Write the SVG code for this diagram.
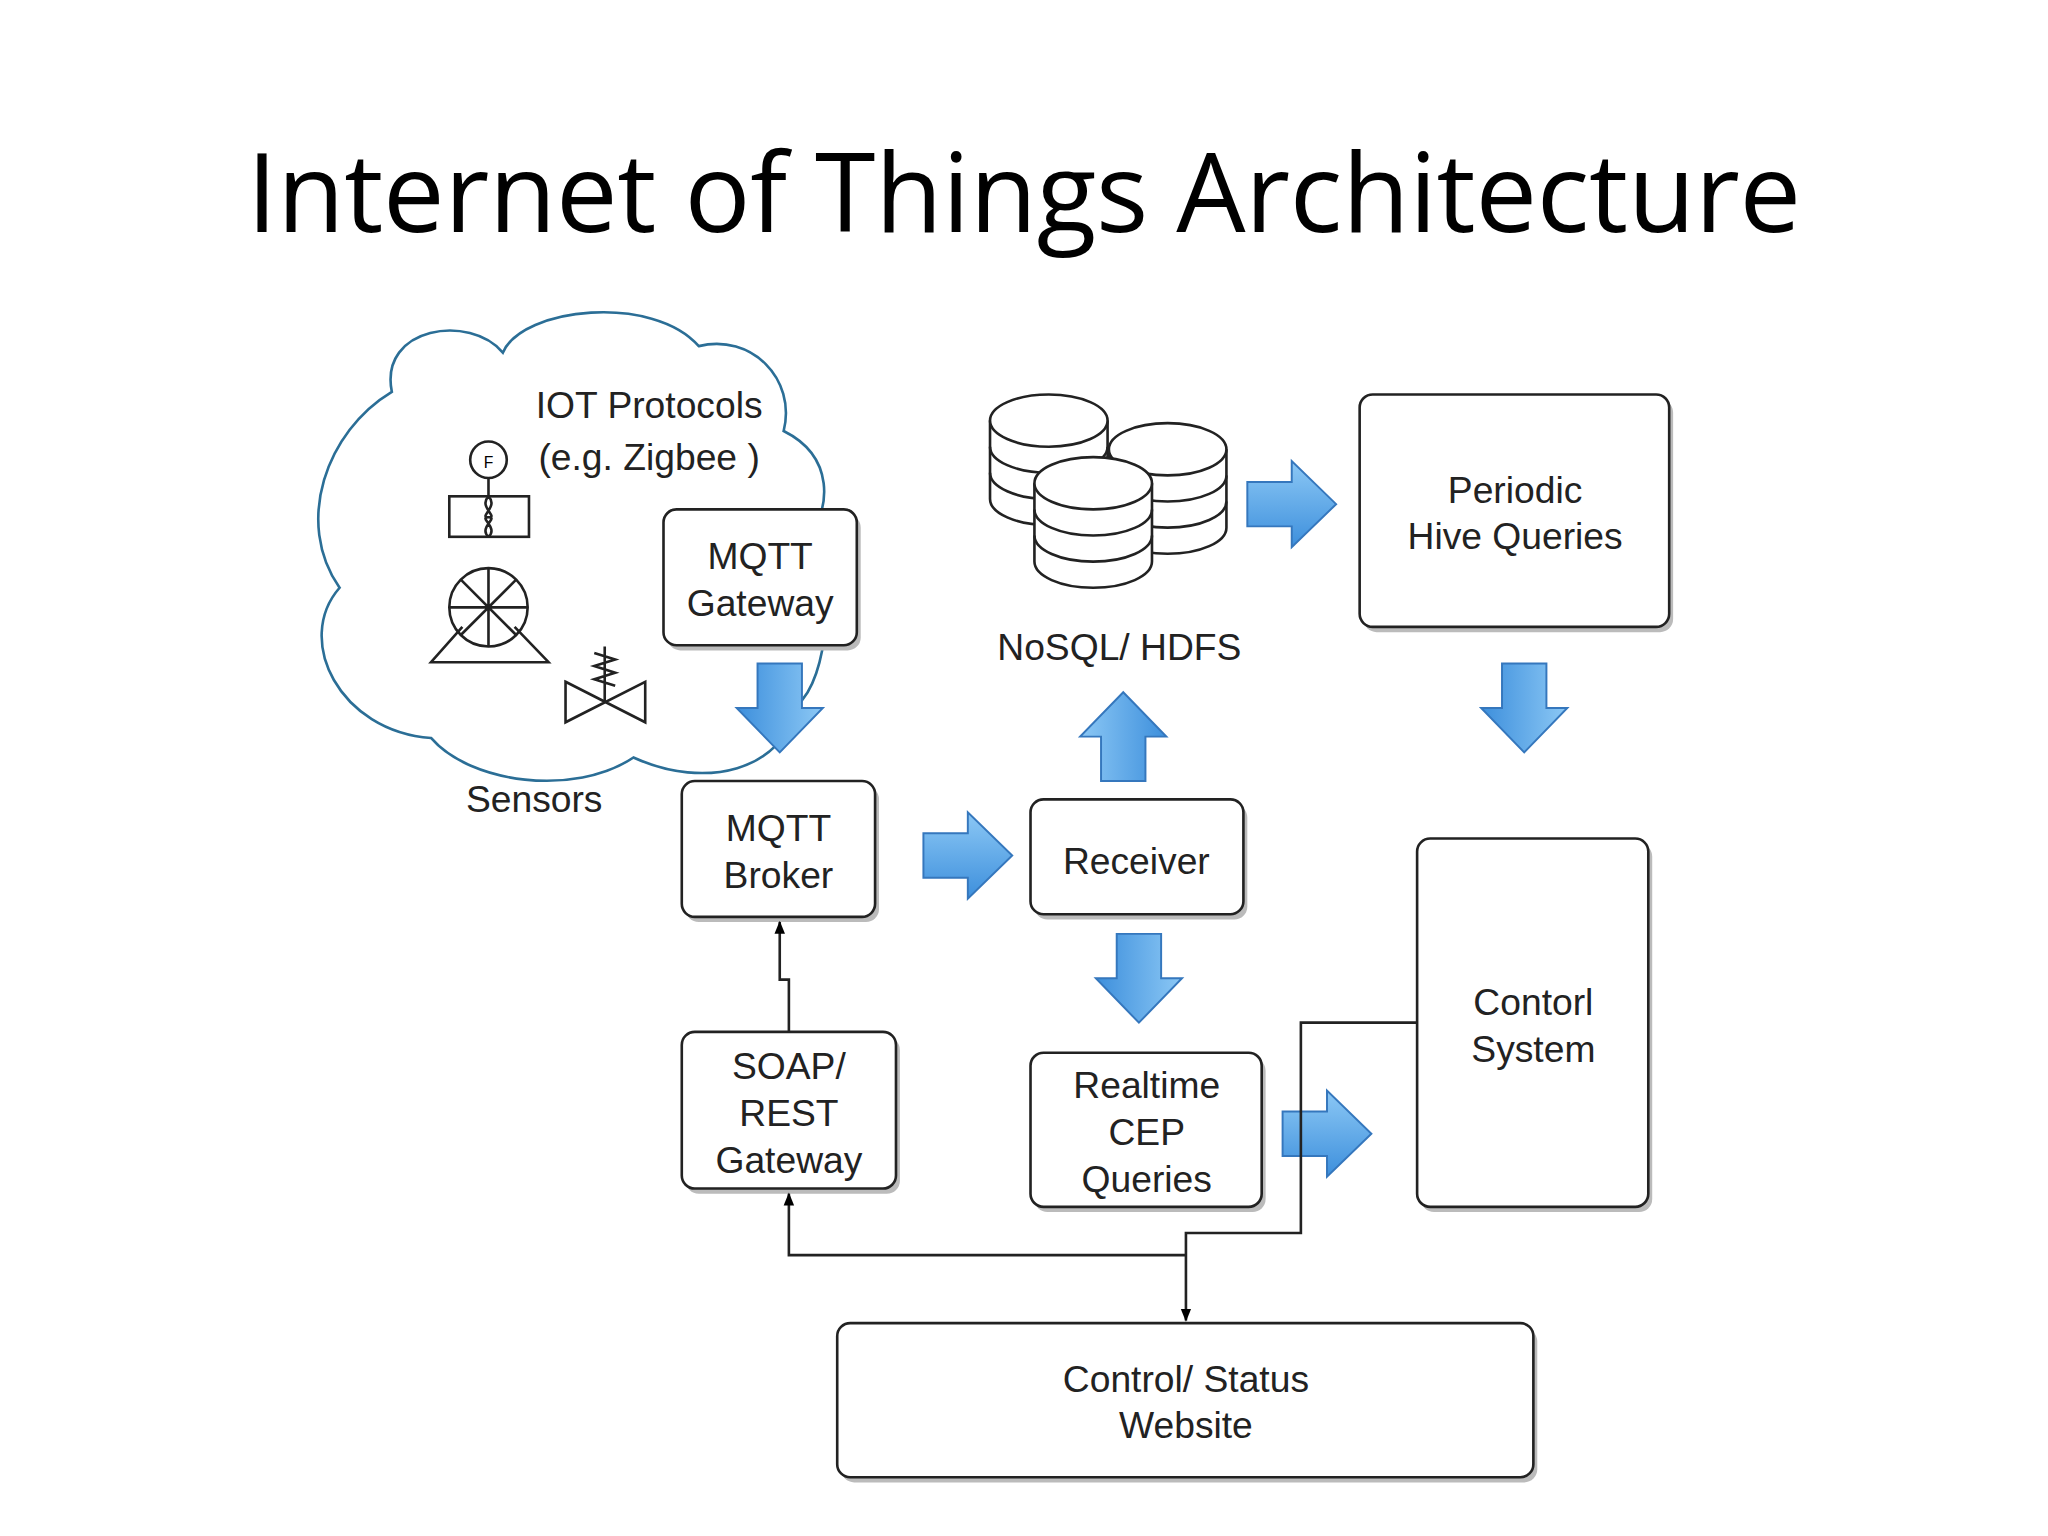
<svg xmlns="http://www.w3.org/2000/svg" xmlns:xlink="http://www.w3.org/1999/xlink" width="2048" height="1536" viewBox="0 0 2048 1536">
<defs>
<linearGradient id="bg" x1="0" y1="0" x2="0" y2="1"><stop offset="0" stop-color="#8cc8f5"/><stop offset="1" stop-color="#3d8fdc"/></linearGradient>
<path id="arr" d="M0,16 H34 V0 L68,33 L34,66 V50 H0 Z" fill="url(#bg)" stroke="#3577bd" stroke-width="1.5"/>
<marker id="ah" markerWidth="10" markerHeight="10" refX="9" refY="5" orient="auto" markerUnits="userSpaceOnUse"><path d="M0,1 L10,5 L0,9 Z" fill="#000"/></marker>
<g id="db"><path d="M0,20 V80 A45,20 0 0 0 90,80 V20" fill="#fff" stroke="#222" stroke-width="2"/><path d="M0,40 A45,20 0 0 0 90,40 M0,60 A45,20 0 0 0 90,60" fill="none" stroke="#222" stroke-width="2"/><ellipse cx="45" cy="20" rx="45" ry="20" fill="#fff" stroke="#222" stroke-width="2"/></g>
</defs>
<style>
.bx{fill:#fff;stroke:#222;stroke-width:2}
.sh{fill:#bbb}
.t{font-family:"Liberation Sans",Arial,sans-serif;font-size:28.5px;fill:#222;text-anchor:middle}
.ln{fill:none;stroke:#222;stroke-width:2}
</style>
<rect width="2048" height="1536" fill="#fff"/>
<g transform="scale(1.3061)">
<text x="784" y="178" font-family="Open Sans,Liberation Sans,sans-serif" font-size="84" text-anchor="middle" textLength="1190" fill="#000">Internet of Things Architecture</text>
<g id="cloud">
<path d="M300,300 C290,250 360,240 385,270 C400,235 500,225 535,265 C575,255 610,290 600,330 C640,350 635,390 620,410 C640,440 635,520 610,540 C600,590 540,605 485,580 C440,610 360,600 330,565 C260,560 225,490 260,450 C225,400 250,330 300,300 Z" fill="#fff" stroke="#2b6e96" stroke-width="2"/>
<text class="t" x="497" y="320">IOT Protocols</text>
<text class="t" x="497" y="360">(e.g. Zigbee )</text>
<circle cx="374" cy="352" r="14" fill="#fff" stroke="#222" stroke-width="2"/>
<text x="374" y="358" font-family="Liberation Sans,sans-serif" font-size="12" text-anchor="middle">F</text>
<line x1="374" y1="366" x2="374" y2="380" class="ln"/>
<rect x="344" y="380" width="61" height="31" class="bx"/>
<path d="M374,380 C366,388 382,396 374,396 C366,396 382,404 374,411 M374,380 C382,388 366,396 374,396 C382,396 366,404 374,411" class="ln"/>
<circle cx="374" cy="465" r="30" class="bx"/>
<path d="M374,435 V495 M344,465 H404 M353,444 L395,486 M395,444 L353,486" class="ln"/>
<path d="M354,480 L330,507 H420 L394,480" class="ln"/>
<path d="M433,522 L494,553 V522 L433,553 Z" class="bx"/>
<path d="M463,537 V495 M455,500 L471,505 L455,510 L471,515 L455,520 L471,525" class="ln"/>
</g>
<text class="t" x="409" y="622">Sensors</text>
<g id="mqttgw"><rect class="sh" x="511" y="394" width="148" height="104" rx="10"/><rect class="bx" x="508" y="390" width="148" height="104" rx="10"/><text class="t" x="582" y="436">MQTT</text><text class="t" x="582" y="472">Gateway</text></g>
<g id="broker"><rect class="sh" x="525" y="602" width="148" height="104" rx="10"/><rect class="bx" x="522" y="598" width="148" height="104" rx="10"/><text class="t" x="596" y="644">MQTT</text><text class="t" x="596" y="680">Broker</text></g>
<g id="receiver"><rect class="sh" x="792" y="616" width="163" height="88" rx="10"/><rect class="bx" x="789" y="612" width="163" height="88" rx="10"/><text class="t" x="870" y="669">Receiver</text></g>
<g id="nosql"><use xlink:href="#db" x="758" y="302"/><use xlink:href="#db" x="849" y="324"/><use xlink:href="#db" x="792" y="350"/><text class="t" x="857" y="505" font-size="25">NoSQL/ HDFS</text></g>
<g id="hive"><rect class="sh" x="1044" y="306" width="237" height="178" rx="10"/><rect class="bx" x="1041" y="302" width="237" height="178" rx="10"/><text class="t" x="1160" y="385">Periodic</text><text class="t" x="1160" y="420">Hive Queries</text></g>
<g id="control"><rect class="sh" x="1088" y="646" width="177" height="282" rx="10"/><rect class="bx" x="1085" y="642" width="177" height="282" rx="10"/><text class="t" x="1174" y="777">Contorl</text><text class="t" x="1174" y="813">System</text></g>
<g id="cep"><rect class="sh" x="792" y="810" width="177" height="118" rx="10"/><rect class="bx" x="789" y="806" width="177" height="118" rx="10"/><text class="t" x="878" y="841">Realtime</text><text class="t" x="878" y="877">CEP</text><text class="t" x="878" y="913">Queries</text></g>
<g id="soap"><rect class="sh" x="525" y="794" width="164" height="120" rx="10"/><rect class="bx" x="522" y="790" width="164" height="120" rx="10"/><text class="t" x="604" y="826">SOAP/</text><text class="t" x="604" y="862">REST</text><text class="t" x="604" y="898">Gateway</text></g>
<g id="website"><rect class="sh" x="644" y="1017" width="533" height="118" rx="10"/><rect class="bx" x="641" y="1013" width="533" height="118" rx="10"/><text class="t" x="908" y="1066">Control/ Status</text><text class="t" x="908" y="1101">Website</text></g>
<g id="connectors">
<use xlink:href="#arr" transform="translate(630,508) rotate(90)"/>
<use xlink:href="#arr" transform="translate(707,622)"/>
<use xlink:href="#arr" transform="translate(827,598) rotate(-90)"/>
<use xlink:href="#arr" transform="translate(905,715) rotate(90)"/>
<use xlink:href="#arr" transform="translate(955,353)"/>
<use xlink:href="#arr" transform="translate(1200,508) rotate(90)"/>
<use xlink:href="#arr" transform="translate(982,835)"/>
<path class="ln" d="M604,790 V750 H597 V706" marker-end="url(#ah)"/>
<path class="ln" d="M1085,783 H996 V944 H908 V1011" marker-end="url(#ah)"/>
<path class="ln" d="M908,961 H604 V914" marker-end="url(#ah)"/>
</g>
</g>
</svg>
